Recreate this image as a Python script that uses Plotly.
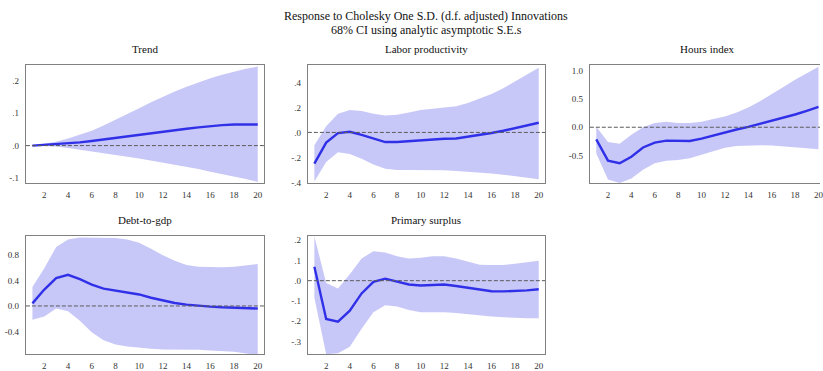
import plotly.graph_objects as go

periods = list(range(1, 21))

trend_resp = [0.0, 0.002, 0.004, 0.007, 0.010, 0.014, 0.019, 0.024, 0.029, 0.033,
              0.038, 0.043, 0.048, 0.052, 0.056, 0.060, 0.063, 0.065, 0.065, 0.065]
trend_up = [0.0, 0.005, 0.012, 0.022, 0.033, 0.046, 0.062, 0.079, 0.097, 0.115,
            0.133, 0.150, 0.166, 0.181, 0.195, 0.207, 0.218, 0.228, 0.236, 0.243]
trend_lo = [0.0, -0.001, -0.003, -0.007, -0.012, -0.017, -0.022, -0.028, -0.034, -0.040,
            -0.046, -0.052, -0.058, -0.065, -0.072, -0.080, -0.087, -0.095, -0.103, -0.112]

labor_resp = [-0.25, -0.082, -0.005, 0.005, -0.02, -0.05, -0.077, -0.077, -0.07, -0.062,
              -0.054, -0.051, -0.049, -0.036, -0.02, -0.005, 0.013, 0.033, 0.056, 0.077]
labor_up = [-0.103, 0.05, 0.149, 0.18, 0.172, 0.149, 0.136, 0.141, 0.159, 0.18,
            0.19, 0.2, 0.21, 0.236, 0.269, 0.308, 0.354, 0.41, 0.46, 0.518]
labor_lo = [-0.392, -0.236, -0.159, -0.172, -0.21, -0.256, -0.29, -0.3, -0.3, -0.3,
            -0.303, -0.303, -0.308, -0.313, -0.32, -0.328, -0.338, -0.349, -0.36, -0.374]

hours_resp = [-0.214, -0.59, -0.636, -0.52, -0.358, -0.272, -0.237, -0.243, -0.243, -0.202,
              -0.145, -0.087, -0.04, 0.006, 0.058, 0.11, 0.168, 0.225, 0.289, 0.358]
hours_up = [0.01, -0.26, -0.29, -0.133, 0.0, 0.075, 0.098, 0.075, 0.075, 0.098,
            0.145, 0.19, 0.26, 0.347, 0.46, 0.578, 0.711, 0.838, 0.954, 1.07]
hours_lo = [-0.462, -0.925, -0.983, -0.907, -0.751, -0.636, -0.59, -0.578, -0.549, -0.491,
            -0.422, -0.364, -0.33, -0.318, -0.318, -0.324, -0.335, -0.353, -0.37, -0.387]

debt_resp = [0.041, 0.258, 0.439, 0.49, 0.423, 0.335, 0.274, 0.243, 0.217, 0.181,
             0.129, 0.083, 0.046, 0.021, 0.0, -0.01, -0.021, -0.031, -0.036, -0.041]
debt_up = [0.3, 0.594, 0.929, 1.048, 1.08, 1.08, 1.07, 1.07, 1.048, 0.996,
           0.903, 0.8, 0.712, 0.645, 0.619, 0.609, 0.609, 0.619, 0.64, 0.66]
debt_lo = [-0.217, -0.165, -0.041, -0.083, -0.232, -0.413, -0.542, -0.609, -0.64, -0.66,
           -0.676, -0.686, -0.686, -0.686, -0.69, -0.702, -0.712, -0.722, -0.748, -0.774]

prim_resp = [0.069, -0.189, -0.202, -0.148, -0.063, -0.006, 0.01, -0.003, -0.019, -0.024,
             -0.021, -0.019, -0.026, -0.035, -0.044, -0.052, -0.053, -0.052, -0.048, -0.042]
prim_up = [0.218, -0.011, -0.039, 0.032, 0.11, 0.145, 0.139, 0.121, 0.11, 0.113,
           0.121, 0.121, 0.11, 0.094, 0.079, 0.077, 0.077, 0.084, 0.092, 0.098]
prim_lo = [-0.084, -0.363, -0.358, -0.326, -0.237, -0.156, -0.121, -0.127, -0.145, -0.156,
           -0.156, -0.156, -0.16, -0.166, -0.173, -0.177, -0.181, -0.184, -0.185, -0.185]

titles = ["Trend", "Labor productivity", "Hours index", "Debt-to-gdp", "Primary surplus"]
x_ticks = [2, 4, 6, 8, 10, 12, 14, 16, 18, 20]

trend_tv = [-0.1, 0.0, 0.1, 0.2]
trend_tt = ["-.1", ".0", ".1", ".2"]
labor_tv = [-0.4, -0.2, 0.0, 0.2, 0.4]
labor_tt = ["-.4", "-.2", ".0", ".2", ".4"]
hours_tv = [-0.5, 0.0, 0.5, 1.0]
hours_tt = ["-0.5", "0.0", "0.5", "1.0"]
debt_tv = [-0.4, 0.0, 0.4, 0.8]
debt_tt = ["-0.4", "0.0", "0.4", "0.8"]
prim_tv = [-0.3, -0.2, -0.1, 0.0, 0.1, 0.2]
prim_tt = ["-.3", "-.2", "-.1", ".0", ".1", ".2"]

W, H = 823, 371
FONT = "Liberation Serif"
FILL = "rgb(200,200,248)"
LINE = "rgb(48,48,232)"
FRAME = "rgb(128,128,128)"

panels = [
    dict(resp=trend_resp, up=trend_up, lo=trend_lo, tv=trend_tv, tt=trend_tt,
         px=(26, 265), py=(65, 185), yr=(-0.115, 0.248), xr=(0.45, 20.53), cut=False),
    dict(resp=labor_resp, up=labor_up, lo=labor_lo, tv=labor_tv, tt=labor_tt,
         px=(309, 547), py=(65, 185), yr=(-0.405, 0.54), xr=(0.45, 20.53), cut=False),
    dict(resp=hours_resp, up=hours_up, lo=hours_lo, tv=hours_tv, tt=hours_tt,
         px=(592, 823), py=(65, 185), yr=(-0.985, 1.1), xr=(0.45, 20.13), cut=True),
    dict(resp=debt_resp, up=debt_up, lo=debt_lo, tv=debt_tv, tt=debt_tt,
         px=(26, 265), py=(239, 359), yr=(-0.76, 1.10), xr=(0.45, 20.53), cut=False),
    dict(resp=prim_resp, up=prim_up, lo=prim_lo, tv=prim_tv, tt=prim_tt,
         px=(309, 547), py=(239, 359), yr=(-0.363, 0.22), xr=(0.45, 20.53), cut=False),
]
title_pos = [(145.5, 49), (428, 49), (710.5, 49), (145.5, 223), (428, 223)]

fig = go.Figure()
annotations = []
shapes = []
tickfont = dict(family=FONT, size=9, color="#333")
for i, p in enumerate(panels):
    n = i + 1
    xa = "x" if n == 1 else f"x{n}"
    ya = "y" if n == 1 else f"y{n}"
    fig.add_trace(go.Scatter(x=periods, y=p["lo"], mode="lines", line=dict(width=0, color=FILL),
                             xaxis=xa, yaxis=ya, showlegend=False, hoverinfo="skip"))
    fig.add_trace(go.Scatter(x=periods, y=p["up"], mode="lines", line=dict(width=0, color=FILL),
                             fill="tonexty", fillcolor=FILL,
                             xaxis=xa, yaxis=ya, showlegend=False, hoverinfo="skip"))
    fig.add_trace(go.Scatter(x=periods, y=p["resp"], mode="lines",
                             line=dict(width=2.4, color=LINE),
                             xaxis=xa, yaxis=ya, showlegend=False))
    xdom = [p["px"][0] / W, p["px"][1] / W]
    ydom = [1 - p["py"][1] / H, 1 - p["py"][0] / H]
    xkey = "xaxis" if n == 1 else f"xaxis{n}"
    ykey = "yaxis" if n == 1 else f"yaxis{n}"
    fig.update_layout(**{
        xkey: dict(domain=xdom, anchor=ya, range=list(p["xr"]), tickvals=x_ticks,
                   showgrid=False, zeroline=False, showline=True, linecolor=FRAME,
                   linewidth=1, mirror=True, ticks="", ticklabelstandoff=3,
                   ticklabeloverflow="allow", tickfont=tickfont),
        ykey: dict(domain=ydom, anchor=xa, range=list(p["yr"]), tickvals=p["tv"],
                   ticktext=p["tt"], showgrid=False, zeroline=False, showline=True,
                   linecolor=FRAME, linewidth=1, mirror=not p["cut"], ticks="",
                   ticklabelstandoff=4, tickfont=tickfont),
    })
    shapes.append(dict(type="line", xref=f"{xa} domain", yref=ya, x0=0, x1=1, y0=0, y1=0,
                       line=dict(color="rgb(90,90,90)", width=1, dash="4px,2px"), layer="above"))
    tx, ty = title_pos[i]
    annotations.append(dict(text=titles[i], x=tx / W, y=1 - ty / H, xref="paper", yref="paper",
                            showarrow=False, xanchor="center", yanchor="middle",
                            font=dict(family=FONT, size=11, color="#111")))

annotations.append(dict(text="Response to Cholesky One S.D. (d.f. adjusted) Innovations",
                        x=428 / W, y=1 - 15 / H, xref="paper", yref="paper", showarrow=False,
                        xanchor="center", yanchor="middle",
                        font=dict(family=FONT, size=12, color="#111")))
annotations.append(dict(text="68% CI using analytic asymptotic S.E.s",
                        x=428 / W, y=1 - 29 / H, xref="paper", yref="paper", showarrow=False,
                        xanchor="center", yanchor="middle",
                        font=dict(family=FONT, size=12, color="#111")))

fig.update_layout(width=W, height=H, margin=dict(l=0, r=0, t=0, b=0),
                  font=dict(family=FONT),
                  paper_bgcolor="white", plot_bgcolor="white",
                  annotations=annotations, shapes=shapes, showlegend=False)
fig.write_html("out.html")
